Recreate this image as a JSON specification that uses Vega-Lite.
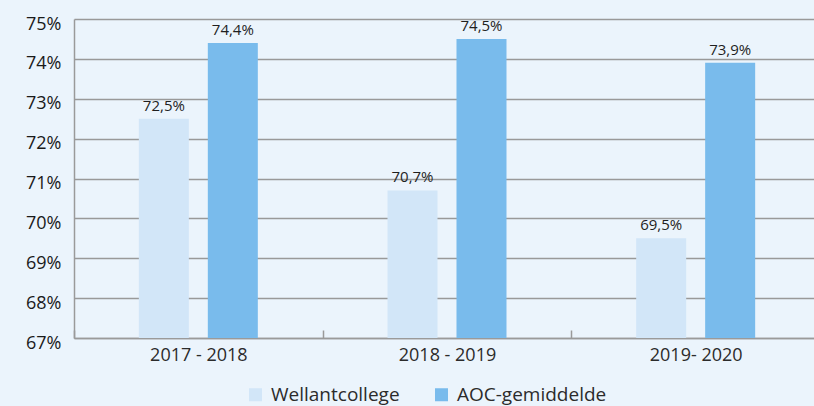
{
  "$schema": "https://vega.github.io/schema/vega-lite/v6.json",
  "width": 740,
  "height": 319,
  "autosize": {"type": "none"},
  "padding": {"left": 74, "top": 19, "right": 0, "bottom": 68},
  "background": "#EBF4FC",
  "config": {
    "locale": {"number": {"decimal": ",", "thousands": ".", "grouping": [3], "currency": ["€", ""]}},
    "view": {"stroke": null},
    "font": "Open Sans"
  },
  "data": {
    "values": [
      {"jaar": "2017 - 2018", "reeks": "Wellantcollege", "waarde": 0.725},
      {"jaar": "2017 - 2018", "reeks": "AOC-gemiddelde", "waarde": 0.744},
      {"jaar": "2018 - 2019", "reeks": "Wellantcollege", "waarde": 0.707},
      {"jaar": "2018 - 2019", "reeks": "AOC-gemiddelde", "waarde": 0.745},
      {"jaar": "2019- 2020", "reeks": "Wellantcollege", "waarde": 0.695},
      {"jaar": "2019- 2020", "reeks": "AOC-gemiddelde", "waarde": 0.739}
    ]
  },
  "encoding": {
    "x": {
      "field": "jaar", "type": "nominal", "sort": null, "title": null,
      "scale": {"range": [0, 746], "paddingInner": 0, "paddingOuter": 0},
      "axis": {
        "labelAngle": 0, "labelFontSize": 18, "labelColor": "#2b2b2b", "labelPadding": 16,
        "domainColor": "#9a9a9a", "domainWidth": 1.5,
        "tickBand": "extent", "tickColor": "#9a9a9a", "tickSize": -8, "tickWidth": 1.5,
        "grid": false
      }
    },
    "xOffset": {
      "field": "reeks", "type": "nominal", "sort": ["Wellantcollege", "AOC-gemiddelde"],
      "scale": {"paddingInner": 0.275, "paddingOuter": 0.94}
    },
    "y": {
      "field": "waarde", "type": "quantitative", "title": null,
      "scale": {"domain": [0.67, 0.75], "zero": false, "nice": false},
      "axis": {
        "format": ".0%", "values": [0.67, 0.68, 0.69, 0.70, 0.71, 0.72, 0.73, 0.74, 0.75],
        "labelOverlap": false, "labelFontSize": 18, "labelColor": "#1a1a1a", "labelPadding": 13,
        "labelOffset": 5,
        "ticks": false, "domainColor": "#9a9a9a", "domainWidth": 1.5,
        "grid": true, "gridColor": "#999999", "gridWidth": 1.5
      }
    }
  },
  "layer": [
    {
      "mark": {"type": "bar"},
      "encoding": {
        "y2": {"datum": 0.67},
        "color": {
          "field": "reeks", "type": "nominal", "title": null,
          "sort": ["Wellantcollege", "AOC-gemiddelde"],
          "scale": {"domain": ["Wellantcollege", "AOC-gemiddelde"], "range": ["#D2E6F8", "#79BBEC"]},
          "legend": {
            "orient": "none", "direction": "horizontal", "legendX": 172, "legendY": 366,
            "symbolType": "square", "symbolSize": 169, "symbolStrokeWidth": 0,
            "labelFontSize": 19, "labelColor": "#2b2b2b", "labelOffset": 6, "columnPadding": 32
          }
        }
      }
    },
    {
      "mark": {"type": "text", "dy": -8, "baseline": "alphabetic", "fontSize": 15, "color": "#1f1f1f"},
      "encoding": {
        "text": {"field": "waarde", "type": "quantitative", "format": ".1%"}
      }
    }
  ]
}
